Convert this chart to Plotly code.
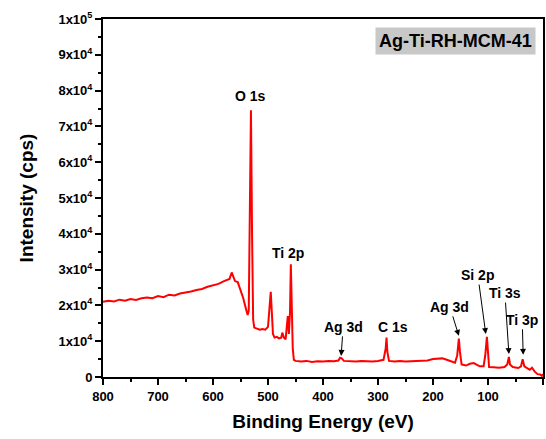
import plotly.graph_objects as go

binding_energy = [800, 790, 780, 770, 760, 750, 740, 730, 720, 710, 700, 690, 680, 670, 660, 650,
                  640, 630, 620, 610, 600, 590, 580, 575, 570, 566, 563, 560, 555, 550, 545, 540,
                  537, 535, 533, 531, 529, 527, 525, 520, 515, 510, 505, 500, 497, 495, 493, 491,
                  488, 484, 480, 476, 474, 471, 468, 466, 464, 462, 460, 458.5, 457, 455, 453, 450,
                  440, 430, 420, 410, 400, 390, 380, 372, 369, 366, 362, 350, 340, 330, 320, 310,
                  300, 290, 286, 284.5, 283, 280, 270, 260, 250, 240, 230, 220, 210, 200, 190, 183,
                  175, 165, 160, 156, 153, 151, 148, 140, 133, 126, 120, 115, 108, 105, 102, 100,
                  98, 90, 80, 70, 65, 62, 60, 55, 45, 40, 37, 34, 28, 24, 20, 15, 10, 5, 2, 0]
intensity = [21000, 21300, 21100, 21600, 21300, 21800, 21500, 22000, 22200, 22000, 22600, 22300,
             23000, 22800, 23300, 23500, 23900, 24300, 24600, 25200, 25600, 26000, 26800, 27000,
             27400, 29200, 28000, 26800, 26500, 24500, 22000, 19000, 17300, 18500, 40000, 74500,
             40000, 16000, 13800, 13500, 13200, 13400, 13200, 14000, 19000, 23800, 18000, 12000,
             11000, 11200, 10800, 11000, 12400, 11000, 10500, 13000, 17000, 12000, 18000, 31500,
             20000, 8000, 4800, 4500, 4300, 4500, 4200, 4400, 4300, 4500, 4400, 4600, 5400, 5200,
             4500, 4400, 4300, 4500, 4400, 4300, 4500, 4800, 8000, 11000, 7000, 4500, 4300, 4500,
             4300, 4400, 4500, 4600, 4600, 5000, 5200, 5200, 4800, 4200, 4000, 6000, 10700, 7000,
             3500, 3200, 3700, 3900, 3500, 3000, 3000, 6000, 11200, 6000, 2800, 2700, 2600, 2800,
             3500, 5600, 3500, 2800, 2500, 3000, 5000, 3000, 2500, 2000, 2600, 1500, 800, 700, 300, 800]

x_ticks = [800, 700, 600, 500, 400, 300, 200, 100, 0]
y_tick_vals = [0, 10000, 20000, 30000, 40000, 50000, 60000, 70000, 80000, 90000, 100000]
y_tick_text = ["0"] + ["%dx10<sup>4</sup>" % i for i in range(1, 10)] + ["1x10<sup>5</sup>"]

sample_name = "Ag-Ti-RH-MCM-41"

# (label, energy, intensity, ax, ay, showarrow)
peak_labels = [
    ("O 1s", 531, 78500, 0, 0, False),
    ("Ti 2p", 463, 34500, 0, 0, False),
    ("Ag 3d", 367, 5900, 2, -29, True),
    ("C 1s", 273, 14000, 0, 0, False),
    ("Ag 3d", 153, 11500, -9, -29, True),
    ("Si 2p", 104, 12000, -8, -59, True),
    ("Ti 3s", 62, 6400, -4, -61, True),
    ("Ti 3p", 36, 6200, -1, -35, True),
]

FONT = "Liberation Sans, Arial, sans-serif"

fig = go.Figure()
fig.add_trace(go.Scatter(x=binding_energy, y=intensity, mode="lines",
                         line=dict(color="#ff0000", width=2), showlegend=False))

for label, ex, ey, ax, ay, arrow in peak_labels:
    if arrow:
        fig.add_annotation(x=ex, y=ey, text="<b>%s</b>" % label, showarrow=True,
                           ax=ax, ay=ay, arrowhead=2, arrowsize=1.2, arrowwidth=1,
                           arrowcolor="black", standoff=0,
                           font=dict(family=FONT, size=14, color="black"))
    else:
        fig.add_annotation(x=ex, y=ey, text="<b>%s</b>" % label, showarrow=False,
                           font=dict(family=FONT, size=14, color="black"))

fig.add_annotation(xref="paper", yref="paper", x=0.985, y=0.939, xanchor="right", yanchor="middle",
                   text="<b>%s</b>" % sample_name, showarrow=False, bgcolor="#c8c8c8",
                   borderpad=3, font=dict(family=FONT, size=18, color="black"))

axis_common = dict(showline=True, linecolor="black", linewidth=2, mirror=True,
                   ticks="outside", tickwidth=2, ticklen=6, tickcolor="black",
                   showgrid=False, zeroline=False, automargin=False,
                   tickfont=dict(family=FONT, size=13, color="black", weight="bold"))

fig.update_xaxes(range=[800, 0], tickvals=x_ticks,
                 minor=dict(dtick=50, ticks="outside", ticklen=3, tickwidth=2, tickcolor="black"),
                 title=dict(text="<b>Binding Energy (eV)</b>", standoff=12,
                            font=dict(family=FONT, size=19, color="black")),
                 **axis_common)
fig.update_yaxes(range=[0, 100000], tickvals=y_tick_vals, ticktext=y_tick_text,
                 minor=dict(dtick=5000, ticks="outside", ticklen=3, tickwidth=2, tickcolor="black"),
                 title=dict(text="<b>Intensity (cps)</b>", standoff=20,
                            font=dict(family=FONT, size=19, color="black")),
                 **axis_common)

fig.update_layout(width=546, height=439, margin=dict(l=103, r=3, t=19, b=62),
                  plot_bgcolor="white", paper_bgcolor="white")

fig.write_html("out.html", config={"displayModeBar": False},
               post_script="document.body.style.margin='0';document.body.style.overflow='hidden';")
